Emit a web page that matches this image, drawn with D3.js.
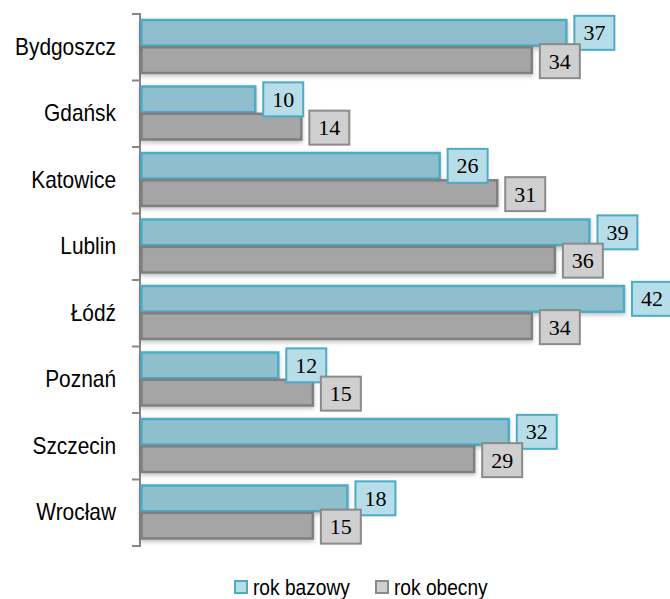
<!DOCTYPE html>
<html>
<head>
<meta charset="utf-8">
<script src="https://cdn.jsdelivr.net/npm/d3@7"></script>
<style>
	body { margin: 0; background: #fff; }
	svg { display: block; }
</style>
</head>
<body>
<div id="chart"></div>
<script>
const cities = ['Bydgoszcz', 'Gdańsk', 'Katowice', 'Lublin', 'Łódź', 'Poznań', 'Szczecin', 'Wrocław'];
const rokBazowy = [37, 10, 26, 39, 42, 12, 32, 18];
const rokObecny = [34, 14, 31, 36, 34, 15, 29, 15];
const seriesNames = ['rok bazowy', 'rok obecny'];

const width = 670;
const height = 599;
const margin = { top: 14, right: 0, bottom: 53, left: 140 };

const colors = [
	{ bar: '#8fbfcc', barStroke: '#4bacc6', box: '#b7dde8', boxStroke: '#4bacc6' },
	{ bar: '#a5a5a5', barStroke: '#7f7f7f', box: '#cfcfcf', boxStroke: '#8a8a8a' }
];

// narrow-looking sans text
const condense = (sel, k) => sel
	.attr('textLength', function() { return this.getComputedTextLength() * k; })
	.attr('lengthAdjust', 'spacingAndGlyphs');

const svg = d3.select('#chart')
	.append('svg')
	.attr('width', width)
	.attr('height', height);

const defs = svg.append('defs');
const shadow = defs.append('filter').attr('id', 'shadow')
	.attr('x', '-5%').attr('y', '-20%').attr('width', '110%').attr('height', '160%');
shadow.append('feDropShadow')
	.attr('dx', 0).attr('dy', 2).attr('stdDeviation', 2)
	.attr('flood-color', '#000').attr('flood-opacity', 0.25);

const data = cities.map((c, i) => ({ city: c, values: [rokBazowy[i], rokObecny[i]] }));

const x = d3.scaleLinear()
	.domain([0, 42])
	.range([margin.left, margin.left + 484]);

const y = d3.scaleBand()
	.domain(cities)
	.range([margin.top, height - margin.bottom]);

const inner = d3.scaleBand()
	.domain([0, 1])
	.range([6, 59])
	.paddingInner(0.06);

// axis
const axis = svg.append('g')
	.attr('transform', `translate(${margin.left},0)`)
	.call(d3.axisLeft(y).tickSize(0).tickPadding(24).tickFormat(d => d));

axis.select('.domain').remove();
axis.selectAll('text')
	.attr('font-family', 'Liberation Sans, Arial, sans-serif')
	.attr('font-size', 24)
	.attr('fill', '#000')
	.call(condense, 0.87);

const tickYs = cities.map(c => y(c)).concat([y.range()[1]]);
svg.append('g').selectAll('line')
	.data(tickYs)
	.enter()
	.append('line')
	.attr('x1', margin.left - 8)
	.attr('x2', margin.left)
	.attr('y1', d => d)
	.attr('y2', d => d)
	.attr('stroke', '#868686')
	.attr('stroke-width', 2);

svg.append('line')
	.attr('x1', margin.left)
	.attr('x2', margin.left)
	.attr('y1', y.range()[0] - 1)
	.attr('y2', y.range()[1] + 1)
	.attr('stroke', '#868686')
	.attr('stroke-width', 2);

// bars
const groups = svg.append('g')
	.selectAll('g')
	.data(data)
	.enter()
	.append('g')
	.attr('transform', d => `translate(0,${y(d.city)})`);

groups.selectAll('rect.bar')
	.data(d => d.values.map((v, s) => ({ v, s })))
	.enter()
	.append('rect')
	.attr('class', 'bar')
	.attr('x', x(0) + 1.5)
	.attr('y', d => inner(d.s))
	.attr('width', d => x(d.v) - x(0) - 1.5)
	.attr('height', inner.bandwidth())
	.attr('fill', d => colors[d.s].bar)
	.attr('stroke', d => colors[d.s].barStroke)
	.attr('stroke-width', 2.5)
	.attr('filter', 'url(#shadow)');

// value labels
const boxW = 40;
const boxH = 34;
const labels = groups.selectAll('g.lbl')
	.data(d => d.values.map((v, s) => ({ v, s })))
	.enter()
	.append('g')
	.attr('class', 'lbl')
	.attr('transform', d => `translate(${x(d.v) + 8},${inner(d.s) + inner.bandwidth() / 2 - boxH / 2 + (d.s === 0 ? 0 : 1)})`);

labels.append('rect')
	.attr('width', boxW)
	.attr('height', boxH)
	.attr('fill', d => colors[d.s].box)
	.attr('stroke', d => colors[d.s].boxStroke)
	.attr('stroke-width', 2);

labels.append('text')
	.attr('x', boxW / 2)
	.attr('y', boxH / 2)
	.attr('dy', '0.34em')
	.attr('text-anchor', 'middle')
	.attr('font-family', 'Liberation Serif, DejaVu Serif, serif')
	.attr('font-size', 22)
	.attr('fill', '#000')
	.text(d => d.v);

// legend
const legendX = [235, 376];
const legend = svg.append('g')
	.selectAll('g')
	.data(seriesNames)
	.enter()
	.append('g')
	.attr('transform', (d, i) => `translate(${legendX[i]},581)`);

legend.append('rect')
	.attr('width', 12)
	.attr('height', 12)
	.attr('fill', (d, i) => colors[i].box)
	.attr('stroke', (d, i) => colors[i].boxStroke)
	.attr('stroke-width', 2);

legend.append('text')
	.attr('x', 18)
	.attr('y', 6)
	.attr('dy', '0.35em')
	.attr('font-family', 'Liberation Sans, Arial, sans-serif')
	.attr('font-size', 22)
	.attr('fill', '#000')
	.text(d => d)
	.call(condense, 0.87);
</script>
</body>
</html>
